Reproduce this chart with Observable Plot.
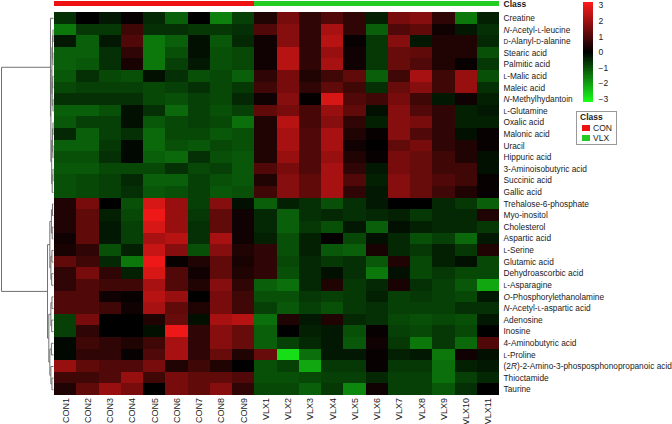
<!DOCTYPE html>
<html><head><meta charset="utf-8">
<script src="https://cdn.jsdelivr.net/npm/d3@7"></script>
<script src="https://cdn.jsdelivr.net/npm/@observablehq/plot@0.6"></script>
<style>
body{margin:0;background:#fff;}
#wrap{position:relative;width:672px;height:424px;overflow:hidden;background:#fff;color:#1a1a1a;font-family:"Liberation Sans",Arial,sans-serif;}
#wrap svg{position:absolute;overflow:visible;}
</style></head><body><div id="wrap"></div>
<script>
// ---------- data ----------
const samples = ["CON1","CON2","CON3","CON4","CON5","CON6","CON7","CON8","CON9",
  "VLX1","VLX2","VLX3","VLX4","VLX5","VLX6","VLX7","VLX8","VLX9","VLX10","VLX11"];
const sampleClass = ["CON","CON","CON","CON","CON","CON","CON","CON","CON",
  "VLX","VLX","VLX","VLX","VLX","VLX","VLX","VLX","VLX","VLX","VLX"];
const classNames = ["CON","VLX"];
const classColors = ["#ee1111","#22cc22"];
const metabolites = ["Creatine","N-Acetyl-L-leucine","D-Alanyl-D-alanine","Stearic acid","Palmitic acid",
  "L-Malic acid","Maleic acid","N-Methylhydantoin","L-Glutamine","Oxalic acid","Malonic acid","Uracil",
  "Hippuric acid","3-Aminoisobutyric acid","Succinic acid","Gallic acid","Trehalose-6-phosphate",
  "Myo-inositol","Cholesterol","Aspartic acid","L-Serine","Glutamic acid","Dehydroascorbic acid",
  "L-Asparagine","O-Phosphorylethanolamine","N-Acetyl-L-aspartic acid","Adenosine","Inosine",
  "4-Aminobutyric acid","L-Proline","(2R)-2-Amino-3-phosposphonopropanoic acid","Thioctamide","Taurine"];

// z-scores, one array per metabolite, in sample order
const zCreatine = [-0.6,0,-0.3,0.1,-0.5,-1.2,0,-1.6,-0.8,0.4,1.5,0.6,1.0,0.6,-0.4,1.5,1.7,0.6,-1.5,-0.4];
const zAcetylLeucine = [-1.5,-0.7,-0.7,0.8,-0.6,-0.6,-0.7,-0.7,-0.6,1.0,1.7,0.6,2.1,0.6,-1.2,1.0,1.2,0.2,-0.3,-0.6];
const zAlanylAlanine = [-0.3,-1.2,-0.3,1.0,-1.5,-1.2,-0.2,-1.1,-0.5,0.2,1.7,0.6,2.3,0.1,-0.7,1.7,-0.3,0.4,0.4,-0.5];
const zStearic = [-1.2,-1.2,-0.6,0.6,-1.5,-1.0,-0.2,-1.0,-0.9,0.2,2.3,0.6,1.9,0.2,-0.7,1.3,1.2,0.4,0.4,-1.0];
const zPalmitic = [-1.2,-1.1,-0.6,0.3,-1.5,-0.8,-0.3,-1.0,-0.9,0.2,2.3,0.6,2.1,0.2,-0.7,1.3,1.0,0.4,0.1,-0.7];
const zMalic = [-1.1,-0.6,-0.9,-1.0,-0.2,-0.6,-1.0,-0.9,-1.2,0.6,1.5,0.4,0.8,1.2,-1.2,0.8,2.1,0.8,1.9,-1.0];
const zMaleic = [-0.9,-0.8,-0.8,-0.8,-0.9,-0.8,-0.6,-0.9,-0.7,0.8,1.5,0.6,1.2,0.8,-0.6,1.3,1.7,0.8,1.9,-0.6];
const zMethylhydantoin = [-0.6,-0.6,-0.6,-0.6,-0.9,-1.0,-0.8,-0.9,-0.5,0.2,1.7,0.05,2.7,1.0,0.8,1.5,0.8,-0.3,0.2,-0.4];
const zGlutamine = [-1.2,-1.2,-1.0,-0.2,-0.6,-1.3,-0.8,-1.0,-0.8,1.2,1.5,0.9,1.9,1.2,-0.2,1.7,1.0,0.6,-0.4,-0.3];
const zOxalic = [-1.1,-0.8,-0.8,-0.2,-1.1,-0.9,-0.8,-0.9,-1.4,0.4,2.3,0.9,1.7,0.6,-0.4,1.7,1.5,0.6,-0.4,-0.4];
const zMalonic = [-0.5,-1.2,-0.8,-0.6,-1.3,-0.9,-0.9,-1.1,-1.0,0.4,2.1,1.0,2.1,0.4,0.1,1.7,1.0,0.6,-0.2,0.1];
const zUracil = [-1.2,-1.2,-0.7,-0.1,-1.3,-1.0,-1.1,-0.9,-1.0,0.4,2.1,1.0,2.1,0.2,0,1.2,1.5,0.6,0.4,0.1];
const zHippuric = [-1.0,-1.0,-0.6,-0.1,-1.2,-1.3,-0.6,-1.0,-1.1,0.4,1.9,1.0,1.9,0.4,0.1,1.5,1.3,0.8,0.4,-0.2];
const zAminoisobutyric = [-1.1,-1.1,-0.9,-0.9,-0.9,-0.6,-0.9,-0.8,-1.1,1.0,1.5,1.0,2.1,0.6,-0.3,1.5,1.3,0.8,0.8,-0.2];
const zSuccinic = [-1.0,-0.9,-0.8,-0.5,-1.2,-1.2,-0.8,-1.0,-1.1,0.4,1.7,1.2,2.1,1.0,-0.4,1.7,1.3,1.0,0.8,0.1];
const zGallic = [-1.0,-0.9,-0.8,-0.6,-1.1,-1.0,-0.8,-1.1,-1.0,0.8,1.7,1.2,2.1,0.6,-0.3,1.7,1.3,0.8,0.4,0.1];
const zTrehalose = [0.4,1.5,0,-1.0,2.7,1.9,-0.8,1.7,-0.2,-1.2,-0.4,-0.6,-1.0,-0.6,-0.3,0,0,-0.5,-0.7,-1.2];
const zMyoInositol = [0.4,1.2,-0.4,-0.9,3.0,1.9,-0.7,1.2,0.2,-0.5,-1.2,-0.6,-0.5,-0.6,-0.5,-0.4,-0.7,-0.5,-0.5,0.4];
const zCholesterol = [0.4,1.2,-0.3,-0.8,2.7,1.9,-0.6,1.2,0.2,-0.5,-1.2,-0.7,-1.0,-0.3,-1.2,-0.2,-0.4,-0.5,-0.5,-0.7];
const zAspartic = [0.2,1.2,-0.3,-0.8,2.1,2.3,-0.6,2.1,0.2,-0.4,-1.0,-0.4,0.05,-0.9,-0.2,-0.5,-1.0,-0.8,-1.3,-0.3];
const zSerine = [0.3,0.6,-1.0,-0.4,2.5,1.7,-1.0,1.7,0.4,0.6,-1.0,-0.4,-1.1,-1.2,0.3,-0.5,-0.7,-0.4,-0.7,0.4];
const zGlutamic = [1.2,0.8,-0.5,-1.5,3.0,0.1,0.4,1.2,0.3,0.6,-0.9,-0.5,-0.7,-0.6,-1.1,0.4,-0.9,-0.4,-0.2,-0.9];
const zDehydroascorbic = [0.6,1.5,0.6,-0.4,2.7,1.0,0.2,1.2,0.4,0.6,-1.0,-0.5,-0.2,-0.6,-1.5,-0.2,-0.9,-0.7,-0.9,-0.9];
const zAsparagine = [0.6,1.0,0.8,0.8,2.1,1.0,0.4,1.7,0.6,-1.2,-1.4,-0.5,0.4,-0.7,-0.5,0.3,-0.6,-0.8,-1.1,-2.1];
const zPhosphoEthanolamine = [1.0,1.0,0.2,0.1,2.3,1.9,0,1.5,0.8,-1.0,-1.0,-0.7,-0.8,-0.7,-0.4,-0.8,-0.7,-0.8,-0.9,-0.3];
const zAcetylAspartic = [1.0,1.0,0.8,0.2,2.1,1.2,0.4,1.5,0.8,-0.8,-1.1,-0.8,-1.0,-0.7,-0.6,-0.8,-0.8,-0.8,-0.6,-0.6];
const zAdenosine = [-0.8,1.5,0,0,0.4,1.3,-0.2,2.1,2.3,-1.4,0.4,-0.3,0.4,-0.5,-0.6,-0.9,-1.0,-0.9,-1.0,-0.3];
const zInosine = [-0.8,0.6,0,0,-0.2,3.0,0.6,1.7,1.3,-1.2,0,-0.4,-0.3,-1.0,0.1,-0.8,-0.9,-0.7,-0.9,0];
const zAminobutyric = [-0.1,0.8,0.6,0.4,0.8,2.1,0.6,1.7,1.3,-1.2,-0.8,-0.5,-0.3,-1.1,0.2,-0.7,-1.5,-0.7,-1.3,1.0];
const zProline = [-0.1,0.6,0.6,0.1,1.0,2.1,0.6,1.3,0.4,1.3,-2.8,-1.4,-0.3,-0.3,0.1,-0.4,-0.3,-1.5,0.2,-0.2];
const zAminoPhosphono = [1.9,1.2,1.0,1.0,1.5,0.4,0.8,0.4,0,-1.0,-0.8,-2.1,-0.7,-0.7,0.1,-0.7,-0.7,-1.4,-0.4,-0.3];
const zThioctamide = [0.8,0.8,1.0,1.9,0.8,1.5,1.2,1.2,1.0,-1.0,-1.0,-0.9,-0.8,-0.8,-0.5,-0.8,-0.8,-1.4,-0.8,-0.5];
const zTaurine = [0.4,1.2,1.9,1.5,0,1.5,1.2,1.7,0.6,-0.9,-0.9,-1.2,-0.7,-1.7,0.2,-0.8,-0.8,-1.1,-0.6,0];

const zRows = [zCreatine,zAcetylLeucine,zAlanylAlanine,zStearic,zPalmitic,zMalic,zMaleic,zMethylhydantoin,
  zGlutamine,zOxalic,zMalonic,zUracil,zHippuric,zAminoisobutyric,zSuccinic,zGallic,zTrehalose,zMyoInositol,
  zCholesterol,zAspartic,zSerine,zGlutamic,zDehydroascorbic,zAsparagine,zPhosphoEthanolamine,zAcetylAspartic,
  zAdenosine,zInosine,zAminobutyric,zProline,zAminoPhosphono,zThioctamide,zTaurine];

const legendTicks = [-3,-2,-1,0,1,2,3];
const colorDomain = [-3.2, 0, 3.2];
const colorRange = ["#1aff1a", "#000000", "#ff1a1a"];

// row dendrogram: [mergeHeight, left, right]; leaves are row indices; root height = 1
const rowTree = [1.0,
  [0.058, 0,
    [0.05,
      [0.03, [0.02, [0.01, 1, 2], [0.012, 3, 4]], [0.025, [0.015, 5, 6], [0.01, 7, 8]]],
      [0.035, [0.02, [0.01, 9, 10], [0.012, 11, 12]], [0.025, [0.01, 13, 14], 15]]]],
  [0.115,
    [0.07, [0.04, [0.02, 16, 17], [0.025, 18, 19]], [0.05, [0.03, 20, 21], [0.035, 22, 23]]],
    [0.09, [0.05, [0.03, 24, 25], [0.035, 26, 27]], [0.07, [0.04, 28, 29], [0.05, 30, [0.03, 31, 32]]]]]];

// ---------- build ----------
const cells = [];
zRows.forEach((row, i) => row.forEach((z, j) => cells.push({row: i, col: j, z})));

const dendroLinks = [];
function walk(node) {
  if (typeof node === "number") return {pos: node + 0.5, h: 0};
  const [h, a, b] = node;
  const la = walk(a), lb = walk(b);
  dendroLinks.push({h1: h, h2: h, p1: la.pos, p2: lb.pos});
  dendroLinks.push({h1: h, h2: la.h, p1: la.pos, p2: la.pos});
  dendroLinks.push({h1: h, h2: lb.h, p1: lb.pos, p2: lb.pos});
  return {pos: (la.pos + lb.pos) / 2, h};
}
walk(rowTree);
// tree width expressed in column units, to the left of the heatmap
const treeGap = 0.045, treeSpan = 2.337;
const hx = h => -(treeGap + h * treeSpan);

const nCol = samples.length, nRow = metabolites.length;
const colIdx = d3.range(nCol);
const barTop = -0.905, barBottom = -0.474;

const fontStack = '"Liberation Sans", Arial, sans-serif';

const chart = Plot.plot({
  width: 672, height: 424,
  marginLeft: 54, marginRight: 173, marginTop: 12, marginBottom: 29,
  style: {fontFamily: fontStack, background: "transparent", color: "#1a1a1a"},
  x: {domain: [0, nCol], axis: null},
  y: {domain: [0, nRow], reverse: true, axis: null},
  color: {type: "linear", domain: colorDomain, range: colorRange},
  marks: [
    Plot.rect(cells, {x1: "col", x2: d => d.col + 1, y1: "row", y2: d => d.row + 1, fill: "z", shapeRendering: "crispEdges"}),
    ...classNames.map((c, k) => Plot.rect(colIdx.filter(j => sampleClass[j] === c),
      {x1: j => j, x2: j => j + 1, y1: barTop, y2: barBottom, fill: classColors[k], shapeRendering: "crispEdges"})),
    Plot.link(dendroLinks, {x1: d => hx(d.h1), x2: d => hx(d.h2), y1: "p1", y2: "p2", stroke: "#707070", strokeWidth: 1}),
    Plot.text(metabolites, {x: nCol, y: (d, i) => i + 0.5, text: d => d, textAnchor: "start", dx: 4, fontSize: 8.3, fill: "#1a1a1a"}),
    Plot.text(samples, {x: (d, i) => i + 0.5, y: nRow, text: d => d, rotate: -90, textAnchor: "end", dy: 2.5, fontSize: 9, fill: "#1a1a1a"}),
    Plot.text(["Class"], {x: nCol, y: (barTop + barBottom) / 2, text: d => d, textAnchor: "start", dx: 4, fontSize: 8.5, fontWeight: "bold", fill: "#1a1a1a"})
  ]
});

// italics / small capitals in metabolite names
const labelSet = new Set(metabolites);
const styleRe = /^[NO](?=-)|(?:^|(?<=-))[LD](?=-)|(?<=\(2)R(?=\))/g;
chart.querySelectorAll("text").forEach(t => {
  const s = t.textContent;
  if (!labelSet.has(s)) return;
  const parts = []; let last = 0, m;
  styleRe.lastIndex = 0;
  while ((m = styleRe.exec(s))) {
    if (m.index > last) parts.push({t: s.slice(last, m.index)});
    parts.push({t: m[0], kind: /[LD]/.test(m[0]) ? "sc" : "it"});
    last = m.index + m[0].length;
  }
  if (last === 0) return;
  if (last < s.length) parts.push({t: s.slice(last)});
  t.textContent = "";
  parts.forEach(p => {
    const ts = document.createElementNS("http://www.w3.org/2000/svg", "tspan");
    ts.textContent = p.t;
    if (p.kind === "it") ts.setAttribute("font-style", "italic");
    if (p.kind === "sc") ts.setAttribute("font-size", "6.5");
    t.appendChild(ts);
  });
});

const wrap = document.getElementById("wrap");
chart.style.left = "0px"; chart.style.top = "0px";
wrap.appendChild(chart);

// continuous colour key
const step = 0.05;
const slices = d3.range(-3.2, 3.2 - 1e-9, step);
const key = Plot.plot({
  width: 40, height: 110,
  marginLeft: 0, marginRight: 30, marginTop: 2, marginBottom: 8,
  style: {fontFamily: fontStack, fontSize: "8.5px", background: "transparent", color: "#1a1a1a"},
  x: {domain: [0, 1], axis: null},
  y: {domain: [colorDomain[0], colorDomain[2]], axis: "right", ticks: legendTicks, tickSize: 0, tickPadding: 5, label: null,
      tickFormat: d => d < 0 ? "\u2212" + Math.abs(d) : String(d)},
  color: {type: "linear", domain: colorDomain, range: colorRange},
  marks: [
    Plot.rect(slices, {x1: 0, x2: 1, y1: d => d, y2: d => d + step, fill: d => d + step / 2, shapeRendering: "crispEdges"})
  ]
});
key.style.left = "583px"; key.style.top = "0px";
wrap.appendChild(key);

// class key
const ck = d3.create("svg").attr("width", 41).attr("height", 34)
  .style("left", "576px").style("top", "111px")
  .attr("font-family", fontStack).attr("font-size", 8.5).attr("fill", "#1a1a1a");
ck.append("rect").attr("x", 0.5).attr("y", 0.5).attr("width", 40).attr("height", 33)
  .attr("fill", "#fff").attr("stroke", "#999");
ck.append("text").attr("x", 4).attr("y", 6.5).attr("dy", "0.32em").attr("font-weight", "bold").text("Class");
classNames.forEach((c, k) => {
  ck.append("rect").attr("x", 6).attr("y", 14 + k * 10).attr("width", 8).attr("height", 6).attr("fill", classColors[k]);
  ck.append("text").attr("x", 17).attr("y", 17 + k * 10).attr("dy", "0.32em").text(c);
});
wrap.appendChild(ck.node());
</script></body></html>
